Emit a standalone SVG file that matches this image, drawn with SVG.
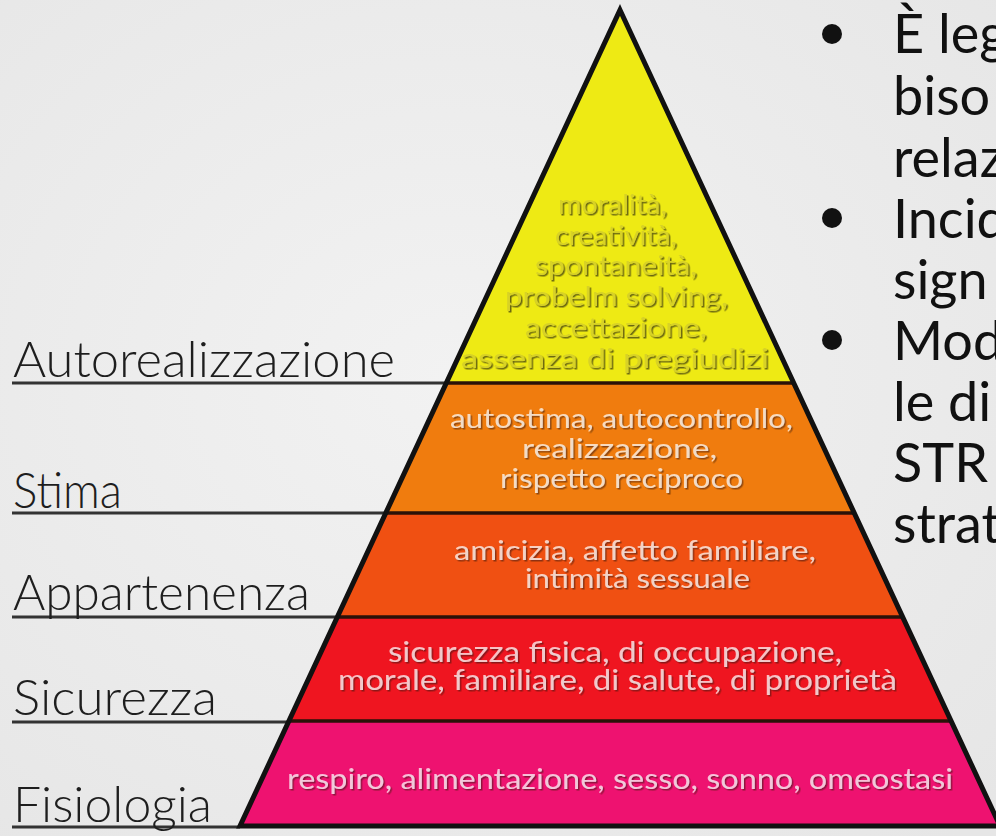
<svg xmlns="http://www.w3.org/2000/svg" width="996" height="836" viewBox="0 0 996 836">
<defs>
<radialGradient id="bg" cx="0.45" cy="0.45" r="0.75">
<stop offset="0" stop-color="#f2f2f2"/>
<stop offset="1" stop-color="#e6e6e6"/>
</radialGradient>
<filter id="dsh" x="-5%" y="-30%" width="110%" height="160%">
<feDropShadow dx="1.5" dy="1.5" stdDeviation="0.6" flood-color="#3a1a10" flood-opacity="0.75"/>
</filter>
<filter id="ysh" x="-5%" y="-30%" width="110%" height="160%">
<feDropShadow dx="1.5" dy="1.5" stdDeviation="0.6" flood-color="#4a4610" flood-opacity="0.8"/>
</filter>
</defs>
<style>
.lbl{font-family:Lato,"Liberation Sans",sans-serif;font-weight:300;font-size:50px;fill:#1e1e1e}
.uline{stroke:#333;stroke-width:3;fill:none}
.body{font-family:Lato,"Open Sans","Liberation Sans",sans-serif;font-size:54px;fill:#111}
.pt{font-family:Lato,"Liberation Sans",sans-serif}
.lt{fill:#ffffff;fill-opacity:0.72;filter:url(#dsh)}
.yt{fill:#d8d226;filter:url(#ysh)}
.sep{stroke:#2a1208;stroke-width:3.5}
</style>
<rect width="996" height="836" fill="url(#bg)"/>

<g id="connectors">
<line class="uline" x1="12" y1="383" x2="447" y2="383"/>
<line class="uline" x1="12" y1="513" x2="386" y2="513"/>
<line class="uline" x1="12" y1="617" x2="337" y2="617"/>
<line class="uline" x1="12" y1="722" x2="289" y2="722"/>
<line class="uline" x1="12" y1="827" x2="240" y2="827"/>
</g>

<g id="label-autorealizzazione"><text class="lbl" x="13" y="377" textLength="382" lengthAdjust="spacingAndGlyphs">Autorealizzazione</text></g>
<g id="label-stima"><text class="lbl" x="13" y="508" textLength="109" lengthAdjust="spacingAndGlyphs">Stima</text></g>
<g id="label-appartenenza"><text class="lbl" x="13" y="610" textLength="297" lengthAdjust="spacingAndGlyphs">Appartenenza</text></g>
<g id="label-sicurezza"><text class="lbl" x="13" y="715" textLength="204" lengthAdjust="spacingAndGlyphs">Sicurezza</text></g>
<g id="label-fisiologia"><text class="lbl" x="13" y="822" textLength="199" lengthAdjust="spacingAndGlyphs">Fisiologia</text></g>

<g id="level-autorealizzazione">
<polygon points="620,10 793.7,383 446.3,383" fill="#eeea14"/>
<g class="pt yt" font-size="26">
<text x="558" y="214" textLength="109" lengthAdjust="spacingAndGlyphs">moralità,</text>
<text x="555" y="245" textLength="122" lengthAdjust="spacingAndGlyphs">creatività,</text>
<text x="535" y="275" textLength="162" lengthAdjust="spacingAndGlyphs">spontaneità,</text>
<text x="505" y="306" textLength="223" lengthAdjust="spacingAndGlyphs">probelm solving,</text>
<text x="525" y="337" textLength="182" lengthAdjust="spacingAndGlyphs">accettazione,</text>
<text x="461" y="368" textLength="308" lengthAdjust="spacingAndGlyphs">assenza di pregiudizi</text>
</g>
</g>

<g id="level-stima">
<polygon points="446.3,383 793.7,383 854.2,513 385.8,513" fill="#f07c0e"/>
<g class="pt lt" font-size="27">
<text x="450" y="428" textLength="343" lengthAdjust="spacingAndGlyphs">autostima, autocontrollo,</text>
<text x="522" y="458" textLength="195" lengthAdjust="spacingAndGlyphs">realizzazione,</text>
<text x="500" y="488" textLength="243" lengthAdjust="spacingAndGlyphs">rispetto reciproco</text>
</g>
</g>

<g id="level-appartenenza">
<polygon points="385.8,513 854.2,513 902.7,617 337.3,617" fill="#f05012"/>
<g class="pt lt" font-size="27">
<text x="454" y="560" textLength="362" lengthAdjust="spacingAndGlyphs">amicizia, affetto familiare,</text>
<text x="525" y="588" textLength="225" lengthAdjust="spacingAndGlyphs">intimità sessuale</text>
</g>
</g>

<g id="level-sicurezza">
<polygon points="337.3,617 902.7,617 951.1,721 288.9,721" fill="#ef1520"/>
<g class="pt lt" font-size="29">
<text x="388" y="662" textLength="454" lengthAdjust="spacingAndGlyphs">sicurezza fisica, di occupazione,</text>
<text x="338" y="690" textLength="559" lengthAdjust="spacingAndGlyphs">morale, familiare, di salute, di proprietà</text>
</g>
</g>

<g id="level-fisiologia">
<polygon points="288.9,721 951.1,721 1000,826 240,826" fill="#ee1270"/>
<g class="pt lt" font-size="29">
<text x="287" y="789" textLength="666" lengthAdjust="spacingAndGlyphs">respiro, alimentazione, sesso, sonno, omeostasi</text>
</g>
</g>

<g id="pyramid-outline">
<line class="sep" x1="446" y1="383" x2="794" y2="383"/>
<line class="sep" x1="386" y1="513" x2="854" y2="513"/>
<line class="sep" x1="337" y1="617" x2="903" y2="617"/>
<line class="sep" x1="289" y1="721" x2="951" y2="721"/>
<polygon points="620,10 1000,826 240,826" fill="none" stroke="#111" stroke-width="5" stroke-linejoin="miter"/>
</g>

<g id="bullet-text" class="body">
<circle cx="832" cy="34" r="10" fill="#111"/>
<circle cx="832" cy="218" r="10" fill="#111"/>
<circle cx="832" cy="340" r="10" fill="#111"/>
<text x="893" y="53">È leg</text>
<text x="893" y="115">biso</text>
<text x="893" y="177">relaz</text>
<text x="893" y="238">Incid</text>
<text x="893" y="299">sign</text>
<text x="893" y="360">Mod</text>
<text x="893" y="421">le di</text>
<text x="893" y="482">STR</text>
<text x="893" y="543">strat</text>
</g>
</svg>
